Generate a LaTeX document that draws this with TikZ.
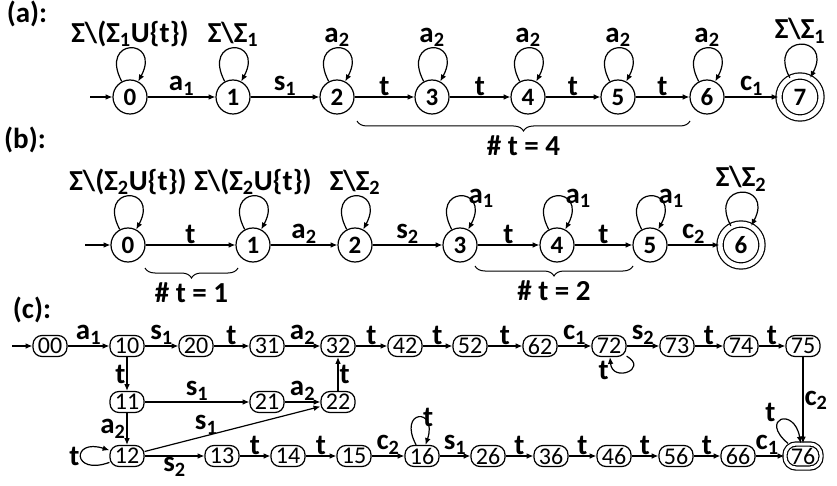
\documentclass[tikz,border=0pt]{standalone}
\usepackage{fontspec}
\setmainfont{Carlito}
\usetikzlibrary{arrows.meta,decorations.pathreplacing}

\begin{document}
\begin{tikzpicture}[x=1pt,y=-1pt,line width=1.2pt,>={Latex[length=2.4mm,width=2mm]},
  st/.style={circle,draw,minimum size=34pt,inner sep=0pt,font=\fontsize{25}{25}\selectfont\bfseries},
  fin/.style={st,double,double distance=5pt,minimum size=42pt},
  bx/.style={draw,rounded corners=9pt,minimum width=34pt,minimum height=21pt,inner sep=0pt,font=\fontsize{24}{24}\selectfont},
  fbx/.style={bx,double,double distance=3pt,minimum width=36pt,minimum height=24pt,rounded corners=11pt},
  lbl/.style={font=\fontsize{29}{29}\selectfont\bfseries,inner sep=1pt},
  br/.style={decorate,decoration={brace,mirror,amplitude=10pt},line width=1pt},
  lp/.style={loop,->,out=118,in=62,distance=50pt}]
  \useasboundingbox (0,0) rectangle (837,486);

  % (a)
  \node[lbl] (ta) at (27,14) {(a):};
  \node[st] (a0) at (130,97) {0}; \node[st] (a1) at (233,97) {1}; \node[st] (a2) at (337,97) {2};
  \node[st] (a3) at (432,97) {3}; \node[st] (a4) at (528,97) {4}; \node[st] (a5) at (618,97) {5};
  \node[st] (a6) at (707,97) {6}; \node[fin] (a7) at (800,97) {7};
  \coordinate (ia) at (90,97);
  \draw[->] (ia) -- (a0);
  \draw[->] (a0) -- node[lbl,above]{a\textsubscript{1}} (a1);
  \draw[->] (a1) -- node[lbl,above]{s\textsubscript{1}} (a2);
  \draw[->] (a2) -- node[lbl,above]{t} (a3);
  \draw[->] (a3) -- node[lbl,above]{t} (a4);
  \draw[->] (a4) -- node[lbl,above]{t} (a5);
  \draw[->] (a5) -- node[lbl,above]{t} (a6);
  \draw[->] (a6) -- node[lbl,above]{c\textsubscript{1}} (a7);
  \path (a0) edge[lp] node[lbl,above]{Σ\textbackslash(Σ\textsubscript{1}U\{t\})} (a0)
        (a1) edge[lp] node[lbl,above]{Σ\textbackslash Σ\textsubscript{1}} (a1);
  \foreach \i in {2,...,6}
    \path (a\i) edge[lp] node[lbl,above]{a\textsubscript{2}} (a\i);
  \path (a7) edge[lp] node[lbl,above]{Σ\textbackslash Σ\textsubscript{1}} (a7);
  \draw[br] (357,121) -- node[lbl,below=13pt] (na) {\# t = 4} (690,121);

  % (b)
  \node[lbl] (tb) at (25,140) {(b):};
  \node[st] (b0) at (128,245) {0}; \node[st] (b1) at (253,245) {1}; \node[st] (b2) at (355,245) {2};
  \node[st] (b3) at (460,245) {3}; \node[st] (b4) at (557,245) {4}; \node[st] (b5) at (650,245) {5};
  \node[fin] (b6) at (741,245) {6};
  \coordinate (ib) at (85,245);
  \draw[->] (ib) -- (b0);
  \draw[->] (b0) -- node[lbl,above]{t} (b1);
  \draw[->] (b1) -- node[lbl,above]{a\textsubscript{2}} (b2);
  \draw[->] (b2) -- node[lbl,above]{s\textsubscript{2}} (b3);
  \draw[->] (b3) -- node[lbl,above]{t} (b4);
  \draw[->] (b4) -- node[lbl,above]{t} (b5);
  \draw[->] (b5) -- node[lbl,above]{c\textsubscript{2}} (b6);
  \path (b0) edge[lp] node[lbl,above]{Σ\textbackslash(Σ\textsubscript{2}U\{t\})} (b0)
        (b1) edge[lp] node[lbl,above]{Σ\textbackslash(Σ\textsubscript{2}U\{t\})} (b1)
        (b2) edge[lp] node[lbl,above]{Σ\textbackslash Σ\textsubscript{2}} (b2)
        (b6) edge[lp] node[lbl,above]{Σ\textbackslash Σ\textsubscript{2}} (b6);
  \foreach \i in {3,4,5}
    \path (b\i) edge[lp] node[lbl,right,pos=0.62]{a\textsubscript{1}} (b\i);
  \draw[br] (145,268) -- node[lbl,below=13pt] (nb1) {\# t = 1} (238,268);
  \draw[br] (475,266) -- node[lbl,below=13pt] (nb2) {\# t = 2} (633,266);

  % (c)
  \node[lbl] (tc) at (32,310) {(c):};
  \node[bx] (00) at (50,346) {00};  \node[bx] (10) at (127,346) {10}; \node[bx] (20) at (196,346) {20};
  \node[bx] (31) at (267,346) {31}; \node[bx] (32) at (338,346) {32}; \node[bx] (42) at (405,346) {42};
  \node[bx] (52) at (470,346) {52}; \node[bx] (62) at (540,346) {62}; \node[bx] (72) at (609,346) {72};
  \node[bx] (73) at (677,346) {73}; \node[bx] (74) at (741,346) {74}; \node[bx] (75) at (803,346) {75};
  \node[bx] (11) at (127,402) {11}; \node[bx] (21) at (267,402) {21}; \node[bx] (22) at (338,402) {22};
  \node[bx] (12) at (127,456) {12}; \node[bx] (13) at (222,456) {13}; \node[bx] (14) at (288,456) {14};
  \node[bx] (15) at (354,456) {15}; \node[bx] (16) at (422,456) {16}; \node[bx] (26) at (488,456) {26};
  \node[bx] (36) at (551,456) {36}; \node[bx] (46) at (614,456) {46}; \node[bx] (56) at (676,456) {56};
  \node[bx] (66) at (738,456) {66}; \node[fbx] (76) at (803,456) {76};
  \coordinate (ic) at (12,346);
  \draw[->] (ic) -- (00);
  \draw[->] (00) -- node[lbl,above]{a\textsubscript{1}} (10);
  \draw[->] (10) -- node[lbl,above]{s\textsubscript{1}} (20);
  \draw[->] (20) -- node[lbl,above]{t} (31);
  \draw[->] (31) -- node[lbl,above]{a\textsubscript{2}} (32);
  \draw[->] (32) -- node[lbl,above]{t} (42);
  \draw[->] (42) -- node[lbl,above]{t} (52);
  \draw[->] (52) -- node[lbl,above]{t} (62);
  \draw[->] (62) -- node[lbl,above]{c\textsubscript{1}} (72);
  \draw[->] (72) -- node[lbl,above]{s\textsubscript{2}} (73);
  \draw[->] (73) -- node[lbl,above]{t} (74);
  \draw[->] (74) -- node[lbl,above]{t} (75);
  \draw[->] (75) -- node[lbl,right]{c\textsubscript{2}} (76);
  \draw[->] (10) -- node[lbl,left]{t} (11);
  \draw[->] (11) -- node[lbl,above]{s\textsubscript{1}} (21);
  \draw[->] (21) -- node[lbl,above]{a\textsubscript{2}} (22);
  \draw[->] (22) -- node[lbl,right]{t} (32);
  \draw[->] (11) -- node[lbl,left]{a\textsubscript{2}} (12);
  \draw[->] (12) -- node[lbl,above,pos=0.35]{s\textsubscript{1}} (22);
  \draw[->] (12) -- node[lbl,below]{s\textsubscript{2}} (13);
  \draw[->] (13) -- node[lbl,above]{t} (14);
  \draw[->] (14) -- node[lbl,above]{t} (15);
  \draw[->] (15) -- node[lbl,above]{c\textsubscript{2}} (16);
  \draw[->] (16) -- node[lbl,above]{s\textsubscript{1}} (26);
  \draw[->] (26) -- node[lbl,above]{t} (36);
  \draw[->] (36) -- node[lbl,above]{t} (46);
  \draw[->] (46) -- node[lbl,above]{t} (56);
  \draw[->] (56) -- node[lbl,above]{t} (66);
  \draw[->] (66) -- node[lbl,above,pos=0.4]{c\textsubscript{1}} (76);
  \path (72) edge[loop,->,out=-30,in=-85,distance=26pt] node[lbl,anchor=north east,pos=0.97]{t} (72)
        (16) edge[loop,->,out=118,in=72,distance=40pt] node[lbl,right,pos=0.58]{t} (16)
        (12) edge[loop,->,out=200,in=162,distance=40pt] node[lbl,left]{t} (12)
        (76) edge[loop,->,out=140,in=100,distance=38pt] node[lbl,anchor=south east,pos=0.35]{t} (76);
\end{tikzpicture}
\end{document}
